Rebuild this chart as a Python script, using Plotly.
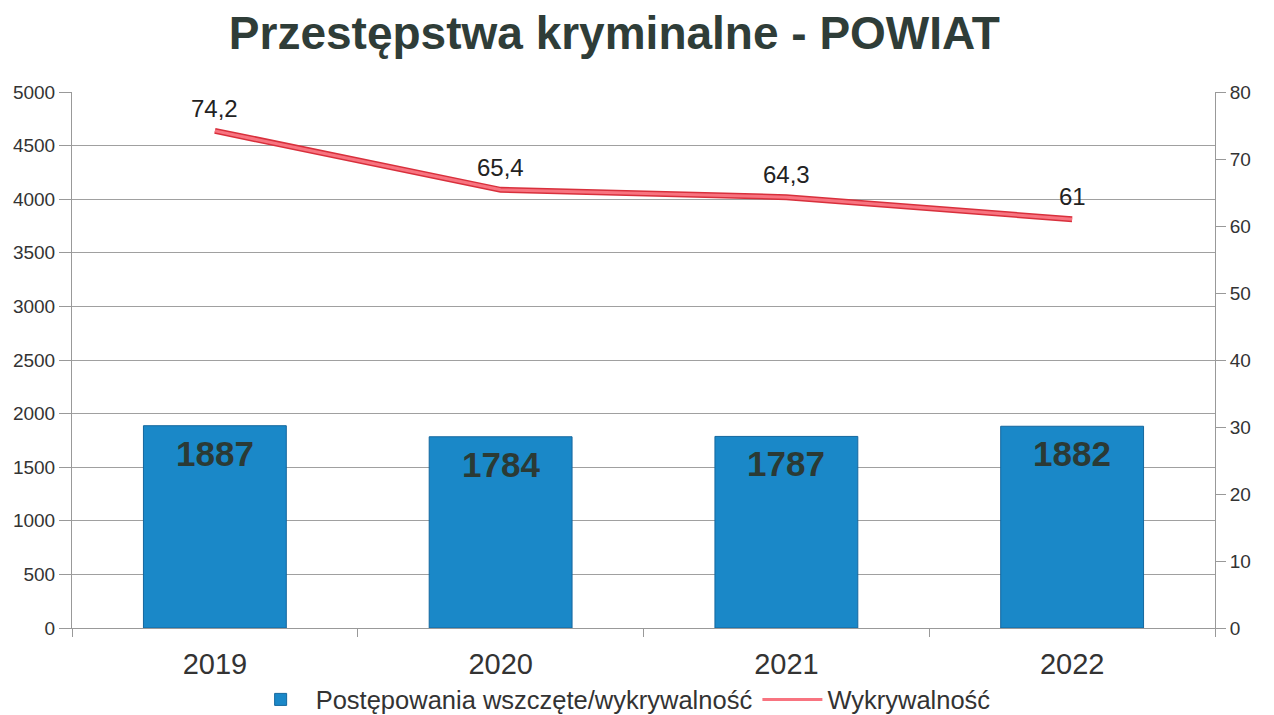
import plotly.graph_objects as go

years = ["2019", "2020", "2021", "2022"]
cases = [1887, 1784, 1787, 1882]
detection = [74.2, 65.4, 64.3, 61]

bar_name = "Postępowania wszczęte/wykrywalność"
line_name = "Wykrywalność"
title = "Przestępstwa kryminalne - POWIAT"

det_text = [("%g" % v).replace(".", ",") for v in detection]

FONT = "Liberation Sans, Arial, sans-serif"

fig = go.Figure()
fig.add_trace(go.Bar(
    x=years, y=cases, name=bar_name, width=0.5,
    marker=dict(color="#1a88c8", line=dict(color="#14679e", width=1)),
    yaxis="y",
))
fig.add_trace(go.Scatter(
    x=years, y=detection, yaxis="y2", mode="lines", showlegend=False,
    line=dict(color="#d8303c", width=6), hoverinfo="skip",
))
fig.add_trace(go.Scatter(
    x=years, y=detection, yaxis="y2", mode="lines", name=line_name,
    line=dict(color="#f87480", width=3),
))

for i, v in enumerate(cases):
    fig.add_annotation(
        x=i, y=v, xref="x", yref="y", text="<b>%d</b>" % v,
        showarrow=False, yanchor="top", yshift=-6,
        font=dict(family=FONT, size=35, color="#2b3a35"),
    )

for i, (v, t) in enumerate(zip(detection, det_text)):
    fig.add_annotation(
        x=i, y=v, xref="x", yref="y2", text=t,
        showarrow=False, yanchor="bottom", yshift=7,
        font=dict(family=FONT, size=24, color="#222222"),
    )

fig.update_layout(
    width=1274, height=715,
    margin=dict(l=64, r=67, t=84, b=95, autoexpand=False),
    paper_bgcolor="white", plot_bgcolor="white",
    title=dict(text="<b>%s</b>" % title, x=0.476, xanchor="center", y=0.965, yanchor="middle",
               font=dict(family=FONT, size=46, color="#2f3d38")),
    font=dict(family=FONT, color="#333333"),
    xaxis=dict(
        type="category", tickson="boundaries", ticks="outside", ticklen=8,
        tickcolor="#999999", showline=True, linecolor="#999999", tickangle=0,
        showgrid=False, tickfont=dict(size=29, color="#333333"),
        ticklabelstandoff=10, automargin=False,
    ),
    yaxis=dict(
        range=[0, 5000], dtick=500, ticks="outside", ticklen=12, tickcolor="#999999",
        showline=True, linecolor="#999999", gridcolor="#a0a0a0", gridwidth=1,
        tickfont=dict(size=19, color="#333333"), zeroline=False, automargin=False,
    ),
    yaxis2=dict(
        range=[0, 80], dtick=10, overlaying="y", side="right", ticks="outside",
        ticklen=10, tickcolor="#999999", showline=True, linecolor="#999999",
        showgrid=False, tickfont=dict(size=19, color="#333333"), zeroline=False,
        automargin=False,
    ),
    legend=dict(orientation="h", x=0.48, xanchor="center", y=-0.134, yanchor="middle",
                font=dict(size=25.5, color="#333333"), itemwidth=60),
)

fig.write_html("out.html")
